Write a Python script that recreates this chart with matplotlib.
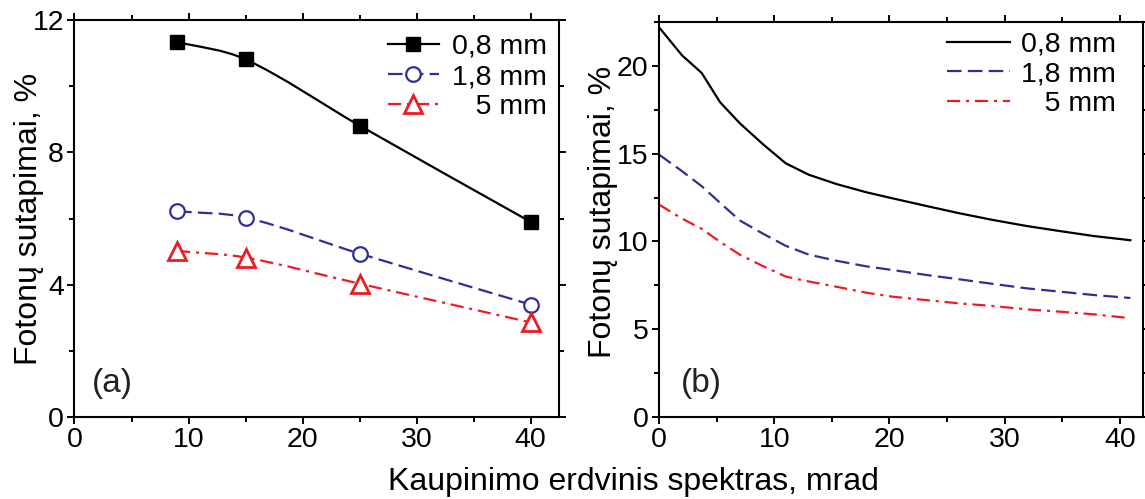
import numpy as np
import matplotlib
matplotlib.use("Agg")
import matplotlib.pyplot as plt
from matplotlib.path import Path
from matplotlib.patches import PathPatch
from matplotlib.ticker import MultipleLocator

plt.rcParams["font.family"] = ["Liberation Sans", "DejaVu Sans"]
plt.rcParams["lines.scale_dashes"] = False

# (a) measured points, mrad vs %
x_a = [9, 15, 25, 40]
a_08 = [11.34, 10.81, 8.81, 5.90]
a_18 = [6.22, 6.03, 4.94, 3.40]
a_5 = [5.02, 4.82, 4.03, 2.86]

# (b) calculated curves
x_b = [0, 2, 3.7, 5.3, 7, 9, 11, 13, 15.4, 18, 20.3, 23.2, 26.1, 29, 31.9, 34.8, 37.7, 40.9]
b_08 = [22.2, 20.6, 19.6, 17.93, 16.74, 15.55, 14.45, 13.8, 13.27, 12.8, 12.45, 12.02,
        11.6, 11.22, 10.88, 10.59, 10.31, 10.07]
b_18 = [14.95, 14.0, 13.15, 12.2, 11.2, 10.45, 9.75, 9.25, 8.9, 8.58, 8.37, 8.09,
        7.84, 7.58, 7.33, 7.14, 6.95, 6.78]
b_5 = [12.1, 11.3, 10.72, 9.98, 9.25, 8.6, 8.0, 7.72, 7.42, 7.08, 6.85, 6.66,
       6.47, 6.32, 6.13, 6.0, 5.85, 5.63]

labels = ["0,8 mm", "1,8 mm", "   5 mm"]

BLACK = "black"
BLUE = "#2E3192"
RED = "#ED1C24"
DASH = (0, (10.5, 4.5))
DASHDOT = (0, (9.5, 4.2, 2.2, 4.2))
LW = 1.6
FS_TICK = 20.5
FS_LAB = 23


def smooth_path(x, y):
    """Hermite/Bezier connector through the points (Origin-like spline line)."""
    x = np.asarray(x, float)
    y = np.asarray(y, float)
    n = len(x)
    m = np.empty(n)
    m[0] = (y[1] - y[0]) / (x[1] - x[0])
    m[-1] = (y[-1] - y[-2]) / (x[-1] - x[-2])
    for i in range(1, n - 1):
        m[i] = (y[i + 1] - y[i - 1]) / (x[i + 1] - x[i - 1])
    verts = [(x[0], y[0])]
    codes = [Path.MOVETO]
    for i in range(n - 1):
        h = x[i + 1] - x[i]
        verts += [(x[i] + h / 3, y[i] + m[i] * h / 3),
                  (x[i + 1] - h / 3, y[i + 1] - m[i + 1] * h / 3),
                  (x[i + 1], y[i + 1])]
        codes += [Path.CURVE4] * 3
    return Path(verts, codes)


def style_axes(ax, xmax, ymax, ymajor, yminor):
    ax.set_xlim(0, xmax)
    ax.set_ylim(0, ymax)
    ax.xaxis.set_major_locator(MultipleLocator(10))
    ax.xaxis.set_minor_locator(MultipleLocator(5))
    ax.yaxis.set_major_locator(MultipleLocator(ymajor))
    ax.yaxis.set_minor_locator(MultipleLocator(yminor))
    ax.tick_params(which="both", direction="out", top=True, right=True,
                   width=1.4, labelsize=FS_TICK, pad=2.5)
    ax.tick_params(which="major", length=5)
    ax.tick_params(which="minor", length=3.5)
    for s in ax.spines.values():
        s.set_linewidth(1.5)
    ax.set_ylabel("Fotonų sutapimai, %", fontsize=FS_LAB)


fig = plt.figure(figsize=(11.45, 4.99), dpi=100)
W, H = 1145, 499
ax1 = fig.add_axes([74.5 / W, 1 - 417 / H, (559 - 74.5) / W, (417 - 20) / H])
ax2 = fig.add_axes([659 / W, 1 - 417 / H, (1143 - 659) / W, (417 - 22) / H])

# ---- (a)
series_a = [
    (a_08, BLACK, "-", dict(marker="s", ms=10, mfc=BLACK, mec=BLACK)),
    (a_18, BLUE, DASH, dict(marker="o", ms=10.5, mfc="white", mec=BLUE, mew=1.6)),
    (a_5, RED, DASHDOT, dict(marker="^", ms=13, mfc="white", mec=RED, mew=2.0)),
]
handles = []
for ys, col, ls, mk in series_a:
    ax1.add_patch(PathPatch(smooth_path(x_a, ys), fill=False, edgecolor=col,
                            lw=LW, linestyle=ls, zorder=2))
    ax1.plot(x_a, ys, linestyle="none", zorder=3, **mk)
    h, = ax1.plot([], [], color=col, lw=LW, linestyle=ls, **mk)
    handles.append(h)

style_axes(ax1, 42.5, 12, 4, 2)
ax1.yaxis.set_label_coords(-0.063, 0.5)
ax1.legend(handles, labels, loc="upper right", bbox_to_anchor=(0.975, 0.965),
           frameon=False, fontsize=FS_TICK, handlelength=1.8, handletextpad=0.45,
           labelspacing=0.15, borderpad=0, borderaxespad=0)
ax1.text(0.079, 0.084, "(a)", transform=ax1.transAxes, fontsize=24,
         ha="center", va="center", color="#222222")

# ---- (b)
ax2.plot(x_b, b_08, color=BLACK, lw=LW, linestyle="-", label=labels[0])
ax2.plot(x_b, b_18, color=BLUE, lw=LW, linestyle=DASH, label=labels[1])
ax2.plot(x_b, b_5, color=RED, lw=LW, linestyle=DASHDOT, label=labels[2])

style_axes(ax2, 42, 22.5, 5, 2.5)
ax2.yaxis.set_label_coords(-0.085, 0.52)
ax2.legend(loc="upper right", bbox_to_anchor=(0.945, 0.975),
           frameon=False, fontsize=FS_TICK, handlelength=2.2, handletextpad=0.4,
           labelspacing=0.12, borderpad=0, borderaxespad=0)
ax2.text(0.087, 0.084, "(b)", transform=ax2.transAxes, fontsize=24,
         ha="center", va="center", color="#222222")

fig.text(633 / W, 1 - 490 / H, "Kaupinimo erdvinis spektras, mrad",
         fontsize=FS_LAB, ha="center", va="baseline")

fig.savefig("out.png", dpi=100)
